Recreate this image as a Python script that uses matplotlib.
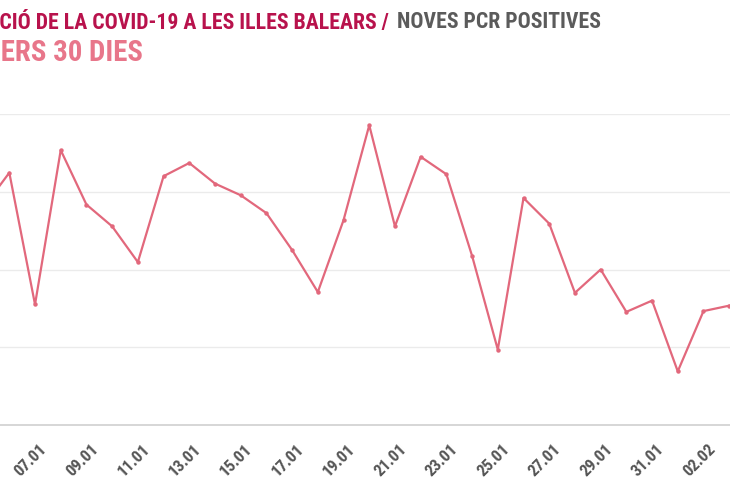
import matplotlib
matplotlib.use("Agg")
import matplotlib.pyplot as plt
from matplotlib import font_manager
from matplotlib.transforms import Affine2D

# ---- data ----
dates = ["05.01", "06.01", "07.01", "08.01", "09.01", "10.01", "11.01", "12.01",
         "13.01", "14.01", "15.01", "16.01", "17.01", "18.01", "19.01", "20.01",
         "21.01", "22.01", "23.01", "24.01", "25.01", "26.01", "27.01", "28.01",
         "29.01", "30.01", "31.01", "01.02", "02.02", "03.02"]
positives = [560, 649, 310, 707, 567, 511, 419, 640, 674, 621, 591, 545, 450,
             342, 527, 771, 511, 690, 645, 435, 194, 584, 518, 340, 400, 291,
             320, 138, 293, 307]
y_ticks = [0, 200, 400, 600, 800]
title_main = "EVOLUCIÓ DE LA COVID-19 A LES ILLES BALEARS /"
title_rest = "NOVES PCR POSITIVES"
subtitle = "ELS DARRERS 30 DIES"
hidden_main = "EVOLU"
hidden_sub = "ELS DARR"

# ---- pick a condensed bold face if one is installed ----
def find_condensed():
    prefs = ["Roboto Condensed", "Noto Sans", "Open Sans", "DejaVu Sans",
             "Liberation Sans Narrow", "Roboto"]
    entries = font_manager.fontManager.ttflist
    for name in prefs:
        for e in entries:
            if e.name != name:
                continue
            st = str(e.stretch).lower()
            if name in ("Roboto Condensed", "Liberation Sans Narrow") or "condensed" in st:
                w = e.weight if isinstance(e.weight, int) else 400
                if w >= 600 or "bold" in str(e.weight).lower():
                    return e.fname
    return None

cond_path = find_condensed()
if cond_path:
    TITLE_FP = dict(fontproperties=font_manager.FontProperties(fname=cond_path))
else:
    TITLE_FP = dict(family=["Roboto", "DejaVu Sans"], fontweight="bold")

FONT = ["Roboto", "DejaVu Sans"]
plt.rcParams["font.family"] = FONT

W, H = 730, 500
fig = plt.figure(figsize=(W / 100, H / 100), dpi=100)
fig.patch.set_facecolor("white")

# axes placement in pixels (chart is cropped on both sides)
step = 25.71
x_first = -16.4
y_bottom_px, y_top_px = 425, 114
ax = fig.add_axes([0, (H - y_bottom_px) / H, 1, (y_bottom_px - y_top_px) / H])
xs = list(range(len(dates)))

line_color = "#e2687c"
ax.plot(xs, positives, color=line_color, lw=1.6, marker="o", ms=3.2,
        markeredgewidth=0, clip_on=False, zorder=3)

for s in ["top", "right", "left"]:
    ax.spines[s].set_visible(False)
ax.spines["bottom"].set_color("#d0d0d0")
ax.spines["bottom"].set_linewidth(1.2)
ax.set_yticks(y_ticks)
ax.set_yticklabels([])
ax.tick_params(axis="y", length=0)
ax.yaxis.grid(True, color="#ebebeb", lw=1)
ax.set_axisbelow(True)

ax.set_xticks(xs[2::2])
ax.set_xticklabels(dates[2::2])
ax.tick_params(axis="x", length=0, pad=12, labelsize=11, labelcolor="#555555")
for lab in ax.get_xticklabels():
    lab.set_rotation(45)
    lab.set_ha("right")
    lab.set_va("top")
    lab.set_rotation_mode("anchor")
    if cond_path:
        lab.set_fontproperties(font_manager.FontProperties(fname=cond_path, size=12))
    else:
        lab.set_fontweight("bold")
    lab.set_transform(lab.get_transform() + Affine2D().translate(4, 0))

ax.set_xlim(-x_first / step, (W - x_first) / step)
ax.set_ylim(y_ticks[0], y_ticks[-1])

# ---- titles (cropped at the left edge, as in the reference) ----
renderer = fig.canvas.get_renderer()

def width_px(txt, size):
    t = fig.text(0, 0, txt, **TITLE_FP)
    t.set_fontsize(size)
    w = t.get_window_extent(renderer).width
    t.remove()
    return w

def put(x_px, y_px, txt, size, color):
    t = fig.text(x_px / W, 1 - y_px / H, txt, color=color, ha="left",
                 va="baseline", **TITLE_FP)
    t.set_fontsize(size)
    return t

vis_main = title_main[len(hidden_main):]
t_size = 13.0 * 387 / width_px(vis_main, 13.0)
x_main = -width_px(hidden_main, t_size) - 1
put(x_main, 28.5, title_main, t_size, "#b8124c")
put(397, 28.5, title_rest, t_size, "#5b5b5b")

vis_sub = subtitle[len(hidden_sub):]
s_size = 20.0 * 142 / width_px(vis_sub, 20.0)
x_sub = -width_px(hidden_sub, s_size) + 1
put(x_sub, 61, subtitle, s_size, "#e8768a")

fig.savefig("out.png", dpi=100, facecolor="white")
